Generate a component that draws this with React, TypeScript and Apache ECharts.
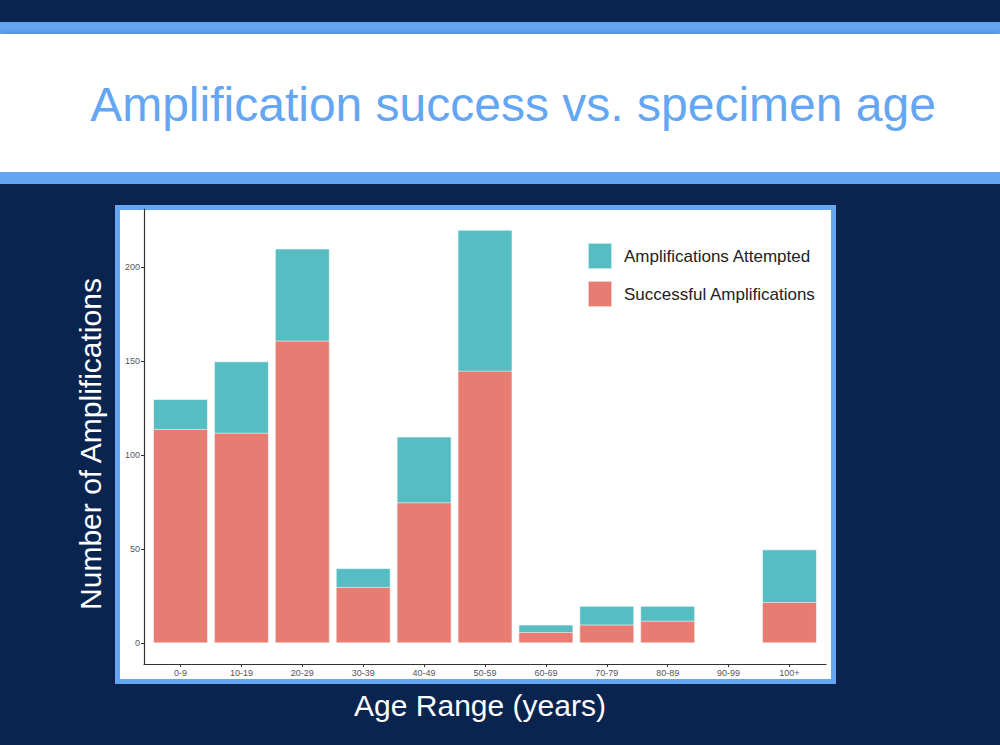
import React, { useEffect, useRef } from "react";
import * as echarts from "echarts";

const categories = ["0-9", "10-19", "20-29", "30-39", "40-49", "50-59", "60-69", "70-79", "80-89", "90-99", "100+"];
const attempted = [130, 150, 210, 40, 110, 220, 10, 20, 20, 0, 50];
const successful = [114, 112, 161, 30, 75, 145, 6, 10, 12, 0, 22];
const yTicks = [0, 50, 100, 150, 200];

const NAVY = "#0a2450";
const BLUE = "#64a6f2";
const TEAL = "#56bdc3";
const RED = "#e87b72";
const SANS = "'Liberation Sans', Arial, Helvetica, sans-serif";

export default function App() {
  const ref = useRef<HTMLDivElement>(null);
  useEffect(() => {
    if (!ref.current) return;
    const chart = echarts.init(ref.current, undefined, { renderer: "svg" });
    const positions = categories.map((_, i) => i + 1);
    chart.setOption({
      animation: false,
      backgroundColor: NAVY,
      graphic: [
        { type: "rect", z: -5, shape: { x: 0, y: 22, width: 1000, height: 12 }, style: { fill: BLUE } },
        { type: "rect", z: -5, shape: { x: 0, y: 34, width: 1000, height: 138 }, style: { fill: "#ffffff", shadowBlur: 6, shadowColor: "rgba(0,0,0,0.25)" } },
        { type: "rect", z: -5, shape: { x: 0, y: 172, width: 1000, height: 12 }, style: { fill: BLUE } },
        {
          type: "text", z: 5, x: 513, y: 104,
          style: { text: "Amplification success vs. specimen age", fill: BLUE, font: `48px ${SANS}`, align: "center", verticalAlign: "middle" },
        },
        { type: "rect", z: -5, shape: { x: 115, y: 205, width: 721, height: 479 }, style: { fill: BLUE } },
        { type: "rect", z: -4, shape: { x: 120, y: 210, width: 711, height: 469 }, style: { fill: "#ffffff" } },
        {
          type: "text", z: 5, x: 90, y: 444, rotation: Math.PI / 2,
          style: { text: "Number of Amplifications", fill: "#ffffff", font: `30px ${SANS}`, align: "center", verticalAlign: "middle" },
        },
        {
          type: "text", z: 5, x: 480, y: 705,
          style: { text: "Age Range (years)", fill: "#ffffff", font: `30px ${SANS}`, align: "center", verticalAlign: "middle" },
        },
      ],
      legend: {
        orient: "vertical",
        left: 587,
        top: 242,
        padding: 0,
        itemWidth: 24,
        itemHeight: 26,
        itemGap: 10,
        icon: "rect",
        data: ["Amplifications Attempted", "Successful Amplifications"],
        textStyle: { fontSize: 17, color: "#222", fontFamily: SANS, padding: [0, 0, 0, 7] },
      },
      grid: { left: 144, top: 209, width: 682, height: 455, containLabel: false },
      xAxis: {
        type: "value",
        min: 0.4,
        max: 11.6,
        splitLine: { show: false },
        axisLine: { show: true, onZero: false, lineStyle: { color: "#333", width: 1.2 } },
        axisTick: { show: true, length: 3, customValues: positions, lineStyle: { color: "#333" } },
        axisLabel: {
          customValues: positions,
          formatter: (v: number) => categories[Math.round(v) - 1] ?? "",
          color: "#555",
          fontSize: 9,
          fontFamily: SANS,
          margin: 4,
        },
      },
      yAxis: {
        type: "value",
        min: -11,
        max: 231,
        splitLine: { show: false },
        axisLine: { show: true, onZero: false, lineStyle: { color: "#333", width: 1.2 } },
        axisTick: { show: true, length: 3, customValues: yTicks, lineStyle: { color: "#333" } },
        axisLabel: {
          customValues: yTicks,
          color: "#555",
          fontSize: 9,
          fontFamily: SANS,
          margin: 4,
        },
      },
      series: [
        {
          name: "Amplifications Attempted",
          type: "bar",
          barWidth: 55,
          barGap: "-100%",
          itemStyle: { color: TEAL, borderColor: "rgba(255,255,255,0.6)", borderWidth: 1 },
          data: attempted.map((v, i) => [positions[i], v]),
        },
        {
          name: "Successful Amplifications",
          type: "bar",
          barWidth: 55,
          barGap: "-100%",
          itemStyle: { color: RED, borderColor: "rgba(255,255,255,0.6)", borderWidth: 1 },
          data: successful.map((v, i) => [positions[i], v]),
        },
      ],
    });
    return () => chart.dispose();
  }, []);
  return <div ref={ref} style={{ position: "fixed", left: 0, top: 0, width: 1000, height: 745 }} />;
}
